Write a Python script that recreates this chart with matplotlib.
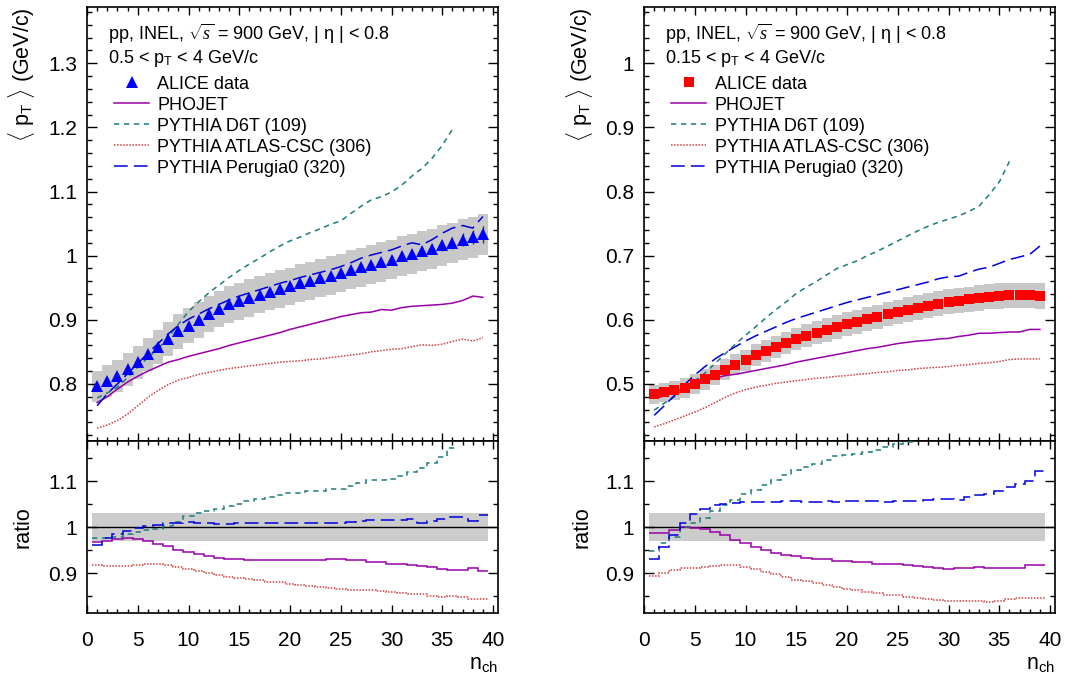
import matplotlib
matplotlib.use("Agg")
import matplotlib.pyplot as plt
import numpy as np
from matplotlib.lines import Line2D
from matplotlib.ticker import MultipleLocator, FormatStrFormatter

plt.rcParams["font.family"] = ["Liberation Sans", "DejaVu Sans"]
plt.rcParams["mathtext.fontset"] = "custom"
plt.rcParams["mathtext.rm"] = "Liberation Sans"
plt.rcParams["mathtext.it"] = "Liberation Serif:italic"
plt.rcParams["mathtext.bf"] = "Liberation Sans:bold"

n_ch = np.arange(1, 40)
n_ch_d6t = np.arange(1, 37)
sys_rel = 0.031

# left panel: 0.5 < pT < 4 GeV/c
alice_hi = [0.796, 0.804, 0.812, 0.823, 0.834, 0.846, 0.858, 0.870, 0.882, 0.891,
            0.900, 0.909, 0.917, 0.924, 0.929, 0.934, 0.939, 0.944, 0.948, 0.952,
            0.957, 0.961, 0.965, 0.969, 0.973, 0.978, 0.982, 0.986, 0.990, 0.994,
            0.999, 1.003, 1.007, 1.011, 1.016, 1.020, 1.025, 1.029, 1.033]
alice_hi_stat = [0.001, 0.001, 0.001, 0.001, 0.001, 0.001, 0.001, 0.001, 0.001, 0.001,
                 0.001, 0.001, 0.002, 0.002, 0.002, 0.002, 0.002, 0.002, 0.002, 0.003,
                 0.003, 0.003, 0.003, 0.003, 0.004, 0.004, 0.004, 0.004, 0.005, 0.005,
                 0.005, 0.006, 0.006, 0.007, 0.008, 0.009, 0.010, 0.011, 0.013]
phojet_hi = [0.771, 0.780, 0.792, 0.803, 0.812, 0.820, 0.827, 0.834, 0.838, 0.843,
             0.847, 0.851, 0.855, 0.860, 0.864, 0.868, 0.872, 0.876, 0.880, 0.885,
             0.889, 0.893, 0.897, 0.901, 0.905, 0.908, 0.911, 0.912, 0.916, 0.915,
             0.919, 0.921, 0.922, 0.923, 0.924, 0.926, 0.930, 0.937, 0.935]
d6t_hi = [0.778, 0.786, 0.795, 0.810, 0.826, 0.841, 0.855, 0.872, 0.893, 0.913,
          0.928, 0.942, 0.954, 0.966, 0.977, 0.987, 0.996, 1.006, 1.015, 1.023,
          1.029, 1.036, 1.042, 1.049, 1.054, 1.066, 1.077, 1.087, 1.092, 1.099,
          1.110, 1.124, 1.136, 1.152, 1.172, 1.197]
atlas_hi = [0.731, 0.736, 0.743, 0.753, 0.766, 0.779, 0.790, 0.799, 0.806, 0.810,
            0.815, 0.818, 0.821, 0.824, 0.826, 0.828, 0.830, 0.832, 0.834, 0.835,
            0.836, 0.838, 0.839, 0.841, 0.843, 0.845, 0.847, 0.850, 0.852, 0.854,
            0.855, 0.858, 0.861, 0.860, 0.862, 0.866, 0.870, 0.867, 0.872]
perugia_hi = [0.766, 0.785, 0.800, 0.816, 0.832, 0.848, 0.863, 0.878, 0.891, 0.901,
              0.909, 0.917, 0.924, 0.931, 0.937, 0.942, 0.947, 0.952, 0.957, 0.961,
              0.966, 0.970, 0.974, 0.978, 0.983, 0.989, 0.996, 1.001, 1.005, 1.009,
              1.015, 1.020, 1.017, 1.025, 1.035, 1.043, 1.047, 1.043, 1.061]

# right panel: 0.15 < pT < 4 GeV/c
alice_lo = [0.484, 0.487, 0.490, 0.494, 0.500, 0.507, 0.514, 0.522, 0.530, 0.537,
            0.545, 0.552, 0.558, 0.564, 0.570, 0.575, 0.580, 0.584, 0.589, 0.593,
            0.597, 0.601, 0.605, 0.609, 0.612, 0.616, 0.619, 0.622, 0.625, 0.628,
            0.630, 0.632, 0.634, 0.636, 0.637, 0.638, 0.638, 0.638, 0.637]
alice_lo_stat = [0.001] * 30 + [0.002] * 9
phojet_lo = [0.478, 0.481, 0.487, 0.494, 0.499, 0.505, 0.509, 0.513, 0.515, 0.518,
             0.521, 0.524, 0.527, 0.530, 0.534, 0.537, 0.540, 0.543, 0.546, 0.549,
             0.552, 0.555, 0.557, 0.560, 0.563, 0.565, 0.567, 0.568, 0.570, 0.571,
             0.574, 0.576, 0.579, 0.579, 0.580, 0.581, 0.581, 0.585, 0.585]
d6t_lo = [0.459, 0.470, 0.480, 0.494, 0.505, 0.517, 0.532, 0.547, 0.562, 0.576,
          0.589, 0.603, 0.616, 0.628, 0.641, 0.651, 0.660, 0.670, 0.680, 0.686,
          0.692, 0.700, 0.707, 0.715, 0.723, 0.731, 0.739, 0.746, 0.752, 0.757,
          0.762, 0.769, 0.777, 0.795, 0.815, 0.847]
atlas_lo = [0.433, 0.438, 0.444, 0.450, 0.456, 0.463, 0.471, 0.479, 0.486, 0.491,
            0.495, 0.498, 0.501, 0.503, 0.505, 0.507, 0.509, 0.510, 0.512, 0.513,
            0.515, 0.516, 0.518, 0.519, 0.521, 0.522, 0.524, 0.525, 0.526, 0.527,
            0.529, 0.530, 0.532, 0.533, 0.535, 0.538, 0.539, 0.539, 0.539]
perugia_lo = [0.451, 0.466, 0.482, 0.499, 0.514, 0.527, 0.539, 0.549, 0.558, 0.567,
              0.575, 0.582, 0.589, 0.596, 0.602, 0.607, 0.612, 0.617, 0.622, 0.627,
              0.631, 0.635, 0.639, 0.643, 0.647, 0.651, 0.655, 0.659, 0.664, 0.667,
              0.668, 0.674, 0.679, 0.682, 0.688, 0.694, 0.698, 0.702, 0.715]

model_labels = ["PHOJET", "PYTHIA D6T (109)", "PYTHIA ATLAS-CSC (306)", "PYTHIA Perugia0 (320)"]
model_styles = [
    dict(color="#9900aa", linestyle="-", linewidth=1.1),
    dict(color="#1f7a7a", linestyle=(0, (3.5, 3.0)), linewidth=1.1),
    dict(color="#d04040", linestyle=(0, (1.0, 1.0)), linewidth=1.1),
    dict(color="#0000dd", linestyle=(0, (9.0, 4.0)), linewidth=1.1),
]

FS_TICK = 15
FS_LAB = 15.5
FS_LEG = 13


def root_ticks(ax, ymajor, yminor):
    ax.xaxis.set_major_locator(MultipleLocator(5))
    ax.xaxis.set_minor_locator(MultipleLocator(1))
    ax.yaxis.set_major_locator(MultipleLocator(ymajor))
    ax.yaxis.set_minor_locator(MultipleLocator(yminor))
    ax.yaxis.set_major_formatter(FormatStrFormatter("%g"))
    ax.tick_params(which="both", direction="in", top=True, right=True, width=1.0,
                   labelsize=FS_TICK)
    ax.tick_params(axis="y", which="major", length=7.5, pad=7)
    ax.tick_params(axis="y", which="minor", length=3.8)
    ax.tick_params(axis="x", which="major", length=6, pad=13)
    ax.tick_params(axis="x", which="minor", length=3)
    for s in ax.spines.values():
        s.set_linewidth(1.2)


def draw_panel(left, data, stat, models, marker, mcolor, msize, header2, ylim, ylab_x, ratio_x):
    width = 0.3775
    ax = fig.add_axes([left, 0.3505, width, 0.639])
    rax = fig.add_axes([left, 0.0972, width, 0.2533])
    data = np.array(data)

    # systematic boxes
    ax.bar(n_ch, 2 * sys_rel * data, bottom=data * (1 - sys_rel), width=1.0,
           color="#c8c8c8", linewidth=0, zorder=1)
    for (x, vals), st in zip(models, model_styles):
        ax.plot(x, vals, zorder=3, **st)
    ax.errorbar(n_ch, data, yerr=stat, fmt="none", ecolor="#333333", elinewidth=1.0, zorder=4)
    ax.plot(n_ch, data, linestyle="none", marker=marker, color=mcolor, markersize=msize,
            markeredgewidth=0, zorder=5)

    ax.set_xlim(0, 40.5)
    ax.set_ylim(*ylim)
    root_ticks(ax, 0.1, 0.02)
    ax.tick_params(labelbottom=False)
    ax.set_ylabel(r"$\langle$ p$_{\rm T}$ $\rangle$ (GeV/c)", fontsize=FS_LAB, loc="top")
    ax.yaxis.set_label_coords(ylab_x, 1.0)

    ax.text(0.05, 0.938, r"pp, INEL, $\sqrt{s}$ = 900 GeV, | η | < 0.8", transform=ax.transAxes,
            fontsize=FS_LEG, va="center", ha="left")
    ax.text(0.05, 0.882, header2, transform=ax.transAxes, fontsize=FS_LEG, va="center", ha="left")

    handles = [Line2D([], [], linestyle="none", marker=marker, color=mcolor, markersize=msize,
                      markeredgewidth=0)]
    handles += [Line2D([], [], **st) for st in model_styles]
    ax.legend(handles, ["ALICE data"] + model_labels, loc="upper left",
              bbox_to_anchor=(0.066, 0.842), frameon=False, fontsize=FS_LEG,
              handlelength=1.95, handletextpad=0.45, labelspacing=0.22,
              borderpad=0, borderaxespad=0)

    # ratio panel
    edges = np.arange(0.5, 40.5, 1.0)
    rax.fill_between([edges[0], edges[-1]], 1 - sys_rel, 1 + sys_rel, color="#cccccc",
                     linewidth=0, zorder=1)
    rax.axhline(1.0, color="black", linewidth=1.0, zorder=2)
    for (x, vals), st in zip(models, model_styles):
        r = np.array(vals) / data[: len(vals)]
        rax.stairs(r, edges[: len(vals) + 1], baseline=None, zorder=3, **st)
    rax.set_xlim(0, 40.5)
    rax.set_ylim(0.813, 1.188)
    root_ticks(rax, 0.1, 0.05)
    rax.set_ylabel("ratio", fontsize=FS_LAB)
    rax.yaxis.set_label_coords(ratio_x, 0.5)
    rax.set_xlabel(r"n$_{\rm ch}$", fontsize=FS_LAB, loc="right", labelpad=2)
    return ax, rax


fig = plt.figure(figsize=(10.89, 6.79), dpi=100)

models_hi = [(n_ch, phojet_hi), (n_ch_d6t, d6t_hi), (n_ch, atlas_hi), (n_ch, perugia_hi)]
models_lo = [(n_ch, phojet_lo), (n_ch_d6t, d6t_lo), (n_ch, atlas_lo), (n_ch, perugia_lo)]

draw_panel(0.0799, alice_hi, alice_hi_stat, models_hi, "^", "#0000ff", 8,
           r"0.5 < p$_{\rm T}$ < 4 GeV/c", (0.711, 1.3875), -0.122, -0.129)
draw_panel(0.5914, alice_lo, alice_lo_stat, models_lo, "s", "#ff0000", 7.8,
           r"0.15 < p$_{\rm T}$ < 4 GeV/c", (0.411, 1.0875), -0.119, -0.126)

fig.savefig("out.png", dpi=100)
